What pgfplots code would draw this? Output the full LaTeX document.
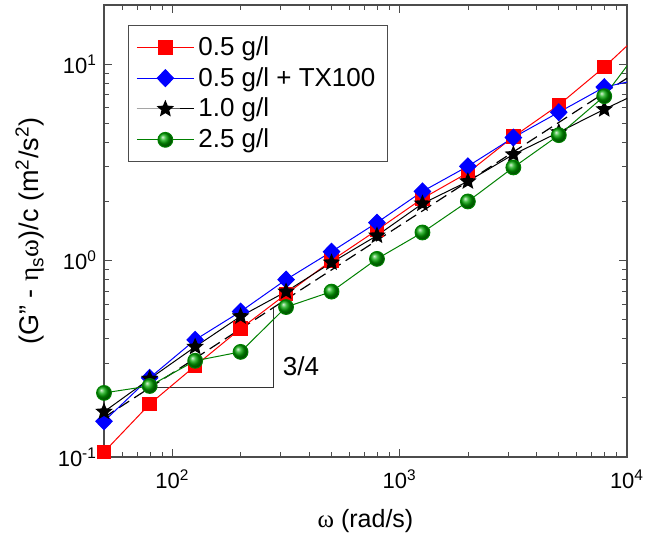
\documentclass[border=0pt]{standalone}
\usepackage{fontspec}
\setmainfont{Liberation Sans}
\newfontfamily\grk{Liberation Serif}
\usepackage{pgfplots}
\pgfplotsset{compat=1.18}
\usetikzlibrary{plotmarks}
\pgfdeclareplotmark{fstar}{%
  \pgfpathmoveto{\pgfqpointpolar{90}{\pgfplotmarksize}}%
  \pgfpathlineto{\pgfqpointpolar{126}{0.45\pgfplotmarksize}}%
  \pgfpathlineto{\pgfqpointpolar{162}{\pgfplotmarksize}}%
  \pgfpathlineto{\pgfqpointpolar{198}{0.45\pgfplotmarksize}}%
  \pgfpathlineto{\pgfqpointpolar{234}{\pgfplotmarksize}}%
  \pgfpathlineto{\pgfqpointpolar{270}{0.45\pgfplotmarksize}}%
  \pgfpathlineto{\pgfqpointpolar{306}{\pgfplotmarksize}}%
  \pgfpathlineto{\pgfqpointpolar{342}{0.45\pgfplotmarksize}}%
  \pgfpathlineto{\pgfqpointpolar{18}{\pgfplotmarksize}}%
  \pgfpathlineto{\pgfqpointpolar{54}{0.45\pgfplotmarksize}}%
  \pgfpathclose
  \pgfusepathqfill}
\begin{document}
\begin{tikzpicture}
\begin{axis}[
  scale only axis, width=261.5pt, height=226pt,
  xmode=log, ymode=log,
  xmin=50, xmax=10000, ymin=0.1, ymax=20,
  xtick={100,1000,10000},
  xticklabels={10\textsuperscript{2},10\textsuperscript{3},10\textsuperscript{4}},
  ytick={0.1,1,10},
  yticklabels={10\textsuperscript{-1},10\textsuperscript{0},10\textsuperscript{1}},
  minor xtick={60,70,80,90,200,300,400,500,600,700,800,900,2000,3000,4000,5000,6000,7000,8000,9000},
  minor ytick={0.2,0.3,0.4,0.5,0.6,0.7,0.8,0.9,2,3,4,5,6,7,8,9,20},
  tick align=inside, major tick length=4pt, minor tick length=2.5pt,
  axis line style={black!70, line width=0.6pt},
  every tick/.style={black!70, line width=0.5pt},
  tick label style={font=\fontsize{11}{13}\selectfont},
  xticklabel style={yshift=-3pt},
  xlabel={{\grk ω} (rad/s)},
  ylabel={(G\char"22\ - {\grk η}\textsubscript{s}{\grk ω})/c (m\textsuperscript{2}/s\textsuperscript{2})},
  xlabel style={font=\fontsize{12.5}{14}\selectfont, at={(axis description cs:0.5,-0.1416)}, anchor=center},
  ylabel style={font=\fontsize{13.5}{15}\selectfont, at={(axis description cs:-0.1415,0.5)}, anchor=center},
  legend style={at={(axis description cs:0.0459,0.9558)}, anchor=north west,
    draw=black!70, fill=white, font=\fontsize{13}{15}\selectfont,
    inner xsep=4pt, inner ysep=3.5pt, row sep=0.5pt},
  legend cell align=left,
  legend image code/.code={\draw[mark repeat=2,mark phase=2] plot coordinates {(0cm,0cm)(0.5cm,0cm)(1cm,0cm)};},
]
% dashed 3/4 power-law line
\addplot[black, line width=0.6pt, dash pattern=on 6pt off 3pt, forget plot] coordinates {(50,0.159) (10000,8.48)};
% slope triangle
\addplot[black!80, line width=0.5pt, forget plot] coordinates {(80.4,0.226) (277.6,0.226) (277.6,0.575)};
\node[anchor=west, font=\fontsize{13}{15}\selectfont] at (axis cs:285,0.29) {3/4};

\addplot[red, line width=0.5pt, mark=square*, mark size=3.4pt, mark options={solid, fill=red, draw=red}] coordinates {
(50,0.106) (79.43,0.186) (125.9,0.291) (199.5,0.45) (316.2,0.675) (501.2,1.0) (794.3,1.43) (1259,2.07) (1995,2.8) (3162,4.27) (5012,6.2) (7943,9.66) (12589,15.9)};
\addlegendentry{0.5 g/l}
\addplot[blue, line width=0.5pt, mark=diamond*, mark size=4.2pt, mark options={solid, fill=blue, draw=blue, xscale=1.3}] coordinates {
(50,0.152) (79.43,0.253) (125.9,0.395) (199.5,0.55) (316.2,0.80) (501.2,1.11) (794.3,1.56) (1259,2.25) (1995,3.02) (3162,4.23) (5012,5.69) (7943,7.64) (12589,8.6)};
\addlegendentry{0.5 g/l + TX100}
\addplot[black, line width=0.5pt, mark=fstar, mark size=4.6pt, mark options={solid, fill=black}] coordinates {
(50,0.17) (79.43,0.25) (125.9,0.364) (199.5,0.52) (316.2,0.695) (501.2,0.977) (794.3,1.34) (1259,1.95) (1995,2.53) (3162,3.47) (5012,4.5) (7943,5.89) (12589,7.6)};
\addlegendentry{1.0 g/l}
\addplot[green!50!black, line width=0.5pt, mark=ball, mark size=3.7pt, mark options={solid, ball color=green!65!black, draw=none}] coordinates {
(50,0.212) (79.43,0.23) (125.9,0.309) (199.5,0.343) (316.2,0.58) (501.2,0.695) (794.3,1.02) (1259,1.39) (1995,2.0) (3162,2.98) (5012,4.35) (7943,6.87) (12589,13.95)};
\addlegendentry{2.5 g/l}
\coordinate (bl) at (rel axis cs:0,0);
\coordinate (tr) at (rel axis cs:1,1);
\end{axis}
\pgfresetboundingbox
\useasboundingbox ([shift={(-52pt,-43pt)}]bl) rectangle ([shift={(11.5pt,2.5pt)}]tr);
\end{tikzpicture}
\end{document}
